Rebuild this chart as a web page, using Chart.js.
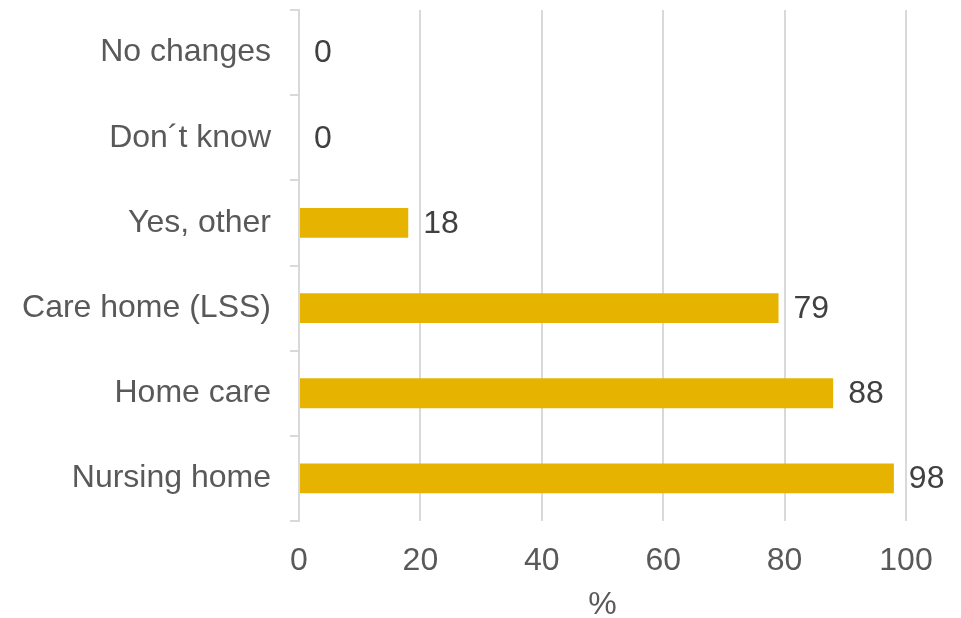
<!DOCTYPE html>
<html>
<head>
<meta charset="utf-8">
<script src="https://cdn.jsdelivr.net/npm/chart.js@4"></script>
<style>
    html, body { margin: 0; padding: 0; background: #fff; }
    #wrap { width: 961px; height: 618px; }
</style>
</head>
<body>
<div id="wrap"><canvas id="chart"></canvas></div>
<script>
// Chart data
const categories = ['No changes', 'Don\u00b4t know', 'Yes, other', 'Care home (LSS)', 'Home care', 'Nursing home'];
const values = [0, 0, 18, 79, 88, 98];
const xTicks = [0, 20, 40, 60, 80, 100];

const FONT = "'Liberation Sans', Arial, sans-serif";

// Draw value labels at the end of each bar
const valueLabels = {
    id: 'valueLabels',
    afterDatasetsDraw(chart) {
        const ctx = chart.ctx;
        const meta = chart.getDatasetMeta(0);
        ctx.save();
        ctx.font = '32px ' + FONT;
        ctx.fillStyle = '#404040';
        ctx.textAlign = 'left';
        ctx.textBaseline = 'middle';
        meta.data.forEach((bar, i) => {
            ctx.fillText(String(values[i]), bar.x + 15, bar.y + 1);
        });
        ctx.restore();
    }
};

new Chart(document.getElementById('chart').getContext('2d'), {
    type: 'bar',
    data: {
        labels: categories,
        datasets: [{
            data: values,
            backgroundColor: '#E6B400',
            categoryPercentage: 1,
            barPercentage: 0.35
        }]
    },
    options: {
        indexAxis: 'y',
        responsive: true,
        maintainAspectRatio: false,
        animation: false,
        layout: { padding: { top: 10, right: 55, left: 0, bottom: 0 } },
        plugins: {
            legend: { display: false },
            tooltip: { enabled: false }
        },
        scales: {
            x: {
                min: 0,
                max: 100,
                afterBuildTicks: function(scale) {
                    scale.ticks = xTicks.map(v => ({ value: v }));
                },
                afterFit: function(scale) {
                    scale.height = 97;
                },
                border: { display: false },
                grid: { color: '#d9d9d9', lineWidth: 2, drawTicks: false },
                ticks: {
                    color: '#595959',
                    font: { family: FONT, size: 32 },
                    padding: 21
                },
                title: {
                    display: true,
                    text: '%',
                    color: '#595959',
                    font: { family: FONT, size: 32 },
                    padding: { top: 4, bottom: -6 }
                }
            },
            y: {
                afterFit: function(scale) {
                    scale.width = 299;
                    scale.paddingTop = 0;
                    scale.paddingBottom = 0;
                },
                border: { display: true, color: '#d9d9d9', width: 2 },
                grid: {
                    offset: true,
                    drawOnChartArea: false,
                    color: '#d9d9d9',
                    lineWidth: 2,
                    tickLength: 9
                },
                ticks: {
                    color: '#595959',
                    font: { family: FONT, size: 32 },
                    padding: 19
                }
            }
        }
    },
    plugins: [valueLabels]
});
</script>
</body>
</html>
